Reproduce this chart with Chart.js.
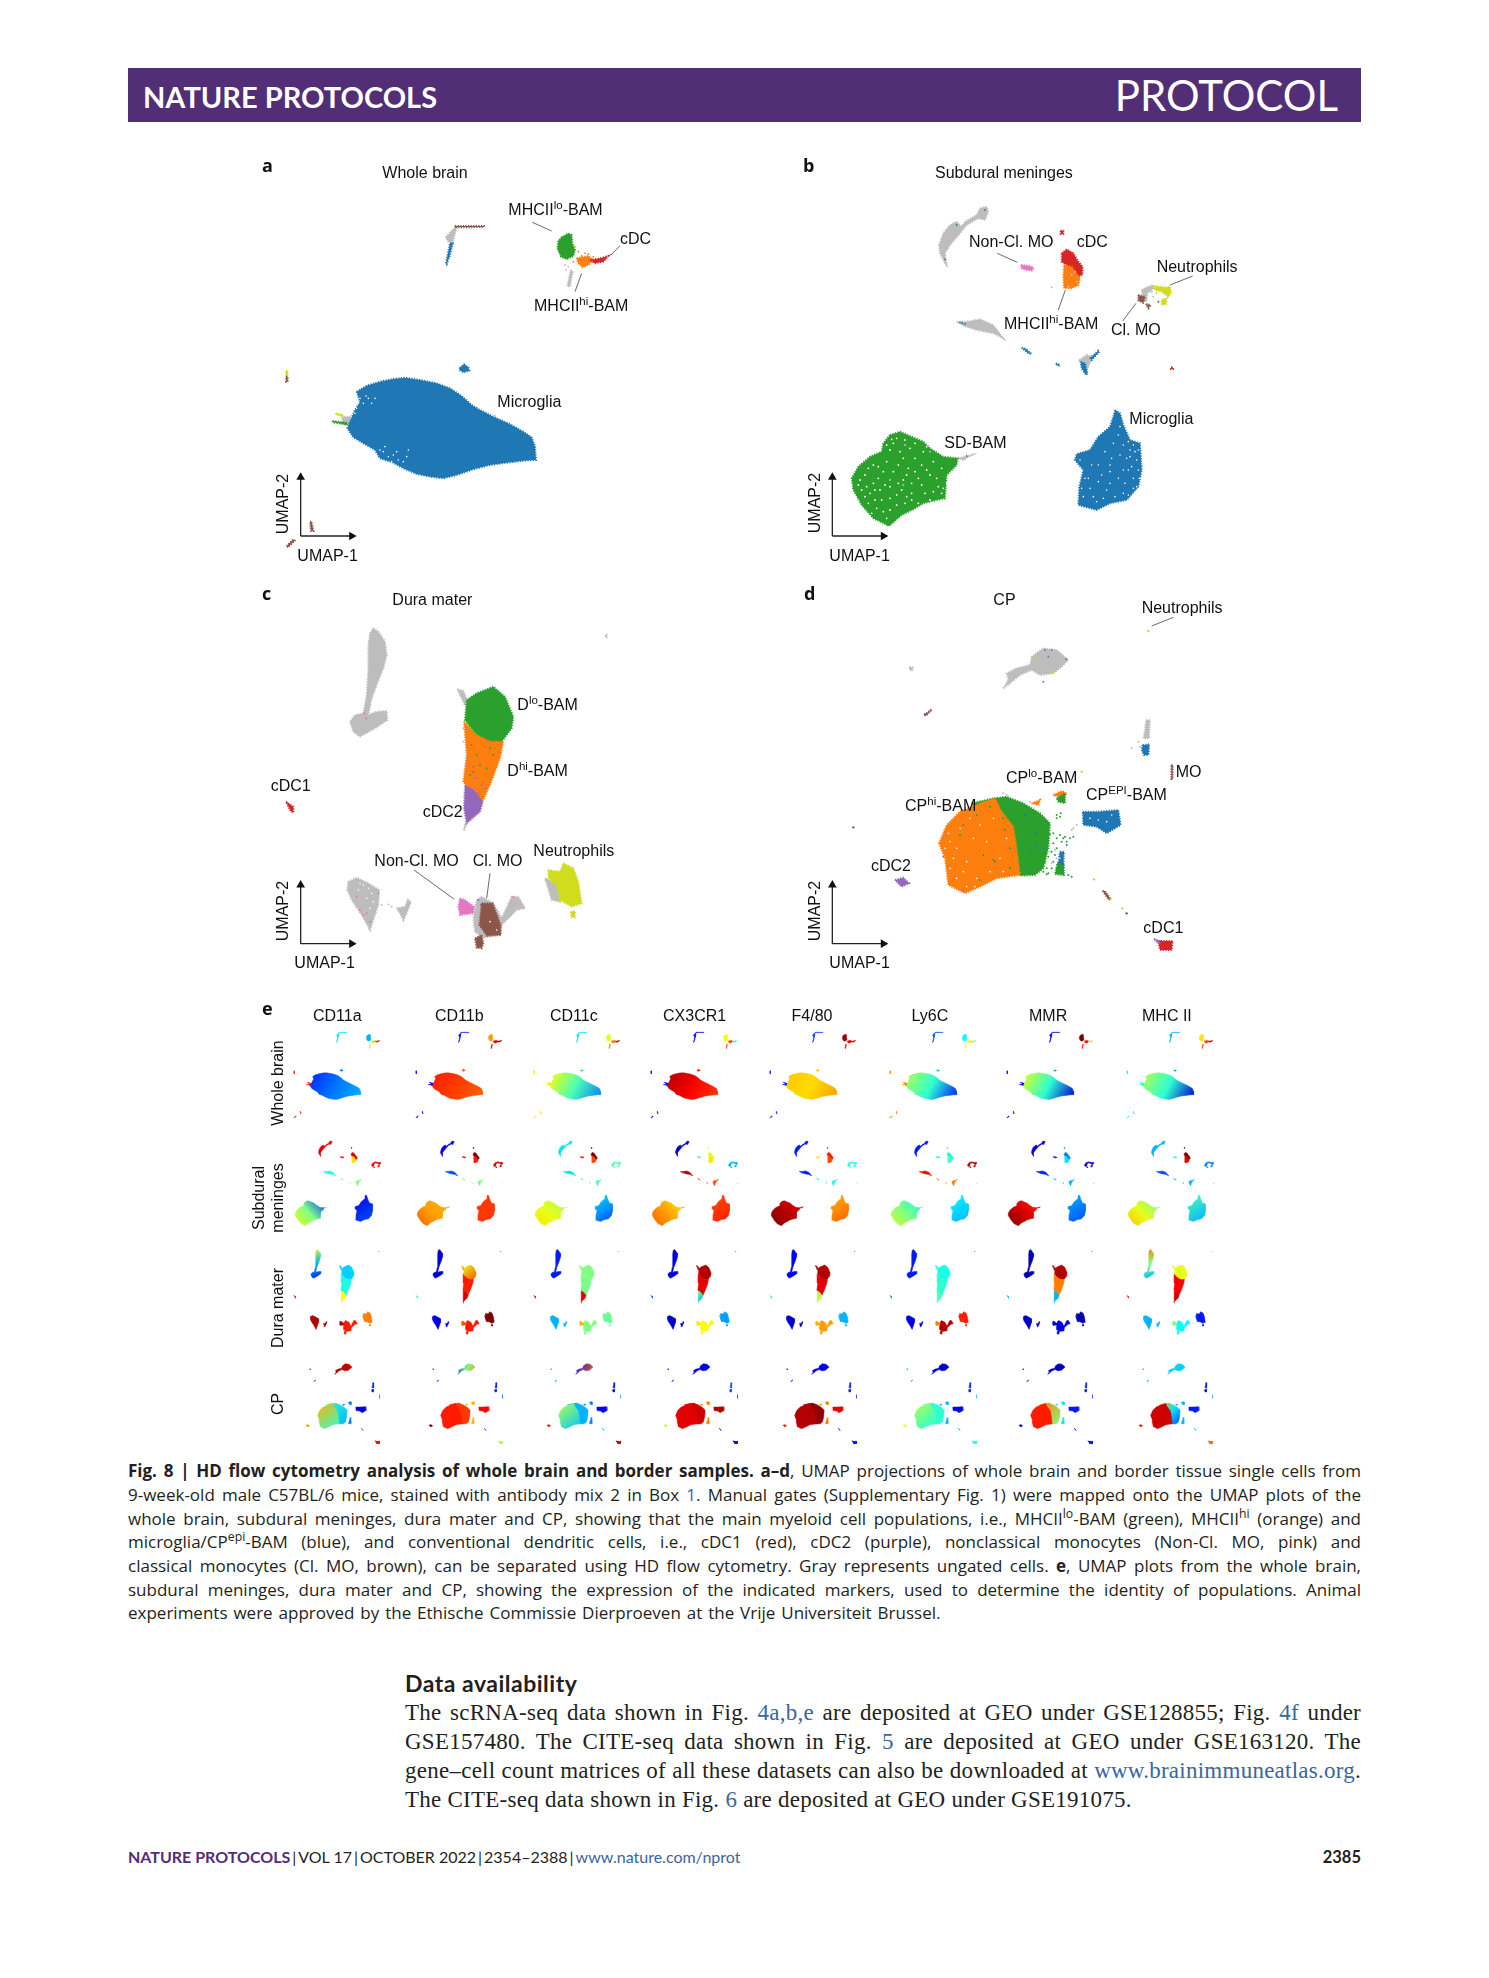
<!DOCTYPE html>
<html>
<head>
<meta charset="utf-8">
<title>Fig. 8 HD flow cytometry</title>
<script src="https://cdn.jsdelivr.net/npm/chart.js@4"></script>
<style>
  html, body { margin: 0; background: #fff; }
  #page { position: relative; width: 1489px; height: 1978px; overflow: hidden; background: #fff; color: #231f20; }
  #page canvas { position: absolute; }
  .band { position: absolute; left: 128px; top: 68px; width: 1233px; height: 54px; background: #512e75; }
  .band1 { position: absolute; left: 143px; top: 81px; font: 700 29px/32px Lato; color: #fff; white-space: nowrap; }
  .band2 { position: absolute; right: 151px; top: 70px; font: 400 42px/50px Lato; color: #fff; white-space: nowrap; }
  .lab { position: absolute; font: 16px/20px "Liberation Sans"; color: #111; white-space: nowrap; transform: translateY(-50%); }
  .lab sup, .cap sup { font-size: 0.72em; line-height: 0; vertical-align: 0.55em; }
  .rot { transform: translate(-50%, -50%) rotate(-90deg); }
  .letter { position: absolute; font: 700 18px/20px "Open Sans"; color: #111; transform: translateY(-50%); }
  .cap { position: absolute; left: 128px; width: 1233px; height: 24px; font: 17px/24px "Open Sans"; color: #231f20; white-space: nowrap; text-align: justify; text-align-last: justify; }
  .cap.last { text-align-last: left; word-spacing: 1.5px; }
  .body { position: absolute; left: 405px; width: 956px; height: 29px; font: 23px/29px "Liberation Serif"; letter-spacing: 0.25px; color: #231f20; white-space: nowrap; text-align: justify; text-align-last: justify; }
  .body.last { text-align-last: left; }
  .pipe { margin: 0 2px; }
  a { color: #3a659f; text-decoration: none; }
</style>
</head>
<body>
<div id="page">
  <div class="band"></div>
  <div class="band1">NATURE PROTOCOLS</div>
  <div class="band2">PROTOCOL</div>

  <div class="cap" style="top:1459px"><b>Fig. 8 | HD flow cytometry analysis of whole brain and border samples. a–d</b>, UMAP projections of whole brain and border tissue single cells from</div>
  <div class="cap" style="top:1483px">9-week-old male C57BL/6 mice, stained with antibody mix 2 in Box <a>1</a>. Manual gates (Supplementary Fig. 1) were mapped onto the UMAP plots of the</div>
  <div class="cap" style="top:1507px">whole brain, subdural meninges, dura mater and CP, showing that the main myeloid cell populations, i.e., MHCII<sup>lo</sup>-BAM (green), MHCII<sup>hi</sup> (orange) and</div>
  <div class="cap" style="top:1530px">microglia/CP<sup>epi</sup>-BAM (blue), and conventional dendritic cells, i.e., cDC1 (red), cDC2 (purple), nonclassical monocytes (Non-Cl. MO, pink) and</div>
  <div class="cap" style="top:1554px">classical monocytes (Cl. MO, brown), can be separated using HD flow cytometry. Gray represents ungated cells. <b>e</b>, UMAP plots from the whole brain,</div>
  <div class="cap" style="top:1578px">subdural meninges, dura mater and CP, showing the expression of the indicated markers, used to determine the identity of populations. Animal</div>
  <div class="cap last" style="top:1601px">experiments were approved by the Ethische Commissie Dierproeven at the Vrije Universiteit Brussel.</div>

  <div style="position:absolute;left:405px;top:1668px;font:700 23px/30px Lato;letter-spacing:0.5px;color:#231f20">Data availability</div>
  <div class="body" style="top:1698px">The scRNA-seq data shown in Fig. <a>4a,b,e</a> are deposited at GEO under GSE128855; Fig. <a>4f</a> under</div>
  <div class="body" style="top:1727px">GSE157480. The CITE-seq data shown in Fig. <a>5</a> are deposited at GEO under GSE163120. The</div>
  <div class="body" style="top:1756px">gene–cell count matrices of all these datasets can also be downloaded at <a>www.brainimmuneatlas.org</a>.</div>
  <div class="body last" style="top:1785px">The CITE-seq data shown in Fig. <a>6</a> are deposited at GEO under GSE191075.</div>

  <div style="position:absolute;left:128px;top:1846px;font:16px/22px Lato;color:#231f20;white-space:nowrap"><b style="color:#512e75">NATURE PROTOCOLS</b><span class="pipe">|</span>VOL 17<span class="pipe">|</span>OCTOBER 2022<span class="pipe">|</span>2354–2388<span class="pipe">|</span><a>www.nature.com/nprot</a></div>
  <div style="position:absolute;right:128px;top:1846px;font:700 16.5px/22px Lato;color:#231f20">2385</div>
</div>

<script>
// populations
const markers = ['CD11a', 'CD11b', 'CD11c', 'CX3CR1', 'F4/80', 'Ly6C', 'MMR', 'MHC II'];
const tissues = ['Whole brain', 'Subdural meninges', 'Dura mater', 'CP'];

// whole brain outlines (UMAP units)
const wbMicroglia = [[290,725],[320,707],[360,695],[400,687],[435,683],[480,690],[530,700],[570,715],[605,738],[635,765],[660,780],[700,800],[750,823],[790,845],[815,862],[825,890],[828,930],[790,932],[740,938],[690,945],[640,958],[590,975],[550,985],[510,980],[470,972],[430,955],[400,938],[360,925],[345,900],[310,880],[280,862],[262,835],[272,810],[285,780],[300,755]];
const wbIsland = [[600,653],[612,643],[625,652],[628,662],[610,667],[598,660]];
const wbStemGray = [[557,262],[585,232],[590,232],[582,262],[578,280],[565,275]];
const wbStemBlue = [[570,280],[578,280],[570,315],[560,343],[558,340]];
const wbStemTop = [[585,228],[672,228],[672,231],[585,232]];
const wbGreen = [[905,262],[925,250],[935,255],[937,280],[945,300],[940,318],[920,328],[903,320],[892,295],[895,272]];
const wbOrange = [[950,325],[985,318],[1000,330],[985,345],[968,352],[955,340]];
const wbRed = [[990,330],[1020,325],[1045,318],[1030,335],[1005,340]];
const wbTail = [[932,360],[938,365],[930,410],[922,408]];
const wbLeftYellow = [[78,662],[83,662],[83,680],[78,680]];
const wbLeftBrown = [[78,680],[83,680],[83,695],[78,695]];
const wbWingGray = [[245,800],[270,800],[275,830],[250,822]];
const wbWingYellow = [[228,790],[250,795],[248,798],[228,794]];
const wbWingGreen = [[218,813],[262,818],[260,824],[218,817]];
const wbLowBrown1 = [[150,1115],[155,1115],[160,1143],[153,1143]];
const wbLowBrown2 = [[80,1188],[100,1168],[104,1172],[84,1192]];
const wholeBrainShapes = [
  ['neut', 5, wbLeftYellow], ['cl', 5, wbLeftBrown], ['ungated', 5, wbWingGray], ['neut', 5, wbWingYellow], ['bamLo', 5, wbWingGreen],
  ['cl', 5, wbLowBrown1], ['cl', 5, wbLowBrown2], ['ungated', 1, wbStemGray], ['microglia', 1, wbStemBlue], ['cl', 1, wbStemTop],
  ['ungated', 3, wbTail], ['microglia', 0, wbIsland], ['microglia', 0, wbMicroglia],
  ['bamLo', 2, wbGreen], ['bamHi', 3, wbOrange], ['cdc1', 4, wbRed]
];
const wbGaps = [[300,745],[310,760],[325,745],[290,775],[295,760],[345,745],[318,738],[335,760],[285,790],[370,905],[385,920],[400,915],[415,930],[440,920],[445,900],[360,900],[395,935],[410,905],[430,935],[375,890]];
const wbOrangeDots = [[945,290],[955,305],[975,310],[940,335],[1000,320],[965,318],[985,312]];
const wbGrayDots = [[925,350],[915,345],[935,370],[918,360],[705,797]];
// one row per marker, one value per group: microglia, stem, MHCIIlo, MHCIIhi, cDC, strays
const wbCD11a = [[.16,.24,.3], .35, .3, .55, .85, .85];
const wbCD11b = [[.85,.78], .15, .72, .9, .98, .12];
const wbCD11c = [[.62,.45,.25], .35, .6, .75, .95, .65];
const wbCX3CR1 = [[.95,.88,.82], .13, .62, .8, .4, .12];
const wbF480 = [[.68,.66,.72], .18, .97, .9, .9, .15];
const wbLy6C = [[.55,.42,.15], .2, .38, .6, .5, .75];
const wbMMR = [[.6,.42,.08], .1, 1, .85, .5, .1];
const wbMHCII = [[.55,.42,.08], .3, .65, .8, .95, .4];

// subdural meninges outlines
const sdRay = [[447,285],[460,250],[480,225],[500,215],[515,230],[525,215],[560,195],[570,175],[590,170],[595,185],[585,210],[565,205],[530,225],[510,250],[480,285],[465,310],[470,345],[465,340],[450,310]];
const sdPink = [[693,345],[715,347],[730,352],[725,362],[700,358],[695,355]];
const sdRedDot = [[812,242],[820,242],[820,252],[812,252]];
const sdRed = [[815,310],[830,298],[850,310],[865,335],[878,350],[877,375],[860,380],[830,345],[815,335]];
const sdOrange = [[822,345],[845,350],[870,385],[865,405],[845,415],[822,415],[820,380]];
const sdYellowA = [[1095,408],[1125,412],[1140,410],[1143,428],[1135,440],[1115,425],[1095,420]];
const sdYellowB = [[1115,450],[1130,445],[1128,462],[1115,465]];
const sdBrownA = [[1045,435],[1065,440],[1060,458],[1045,452]];
const sdBrownB = [[1068,462],[1082,465],[1075,475]];
const sdRing = [[1055,420],[1070,412],[1090,405],[1092,415],[1072,430],[1070,455],[1060,450]];
const sdWing = [[500,515],[530,515],[570,508],[610,525],[640,565],[610,550],[560,540],[520,527]];
const sdDashA = [[695,593],[708,597],[725,612],[715,610]];
const sdDashB = [[797,640],[810,645],[805,648]];
const sdForkGray = [[890,615],[905,620],[900,640],[890,660],[880,640],[865,632]];
const sdForkBlue = [[872,635],[885,640],[893,670],[888,675],[875,655]];
const sdForkArm = [[900,625],[925,602],[928,605],[905,630]];
const sdRedSpot = [[1143,652],[1149,652],[1149,657],[1143,657]];
const sdGreen = [[300,855],[330,845],[365,860],[400,875],[420,895],[460,920],[503,925],[500,945],[470,975],[465,1045],[440,1050],[400,1060],[370,1078],[335,1095],[297,1128],[250,1105],[215,1065],[190,1020],[185,985],[205,950],[240,920],[275,905],[280,880]];
const sdGreenTail = [[505,925],[545,915],[520,930]];
const sdBlue = [[975,780],[990,790],[1000,825],[1020,870],[1050,880],[1055,960],[1045,1010],[1010,1050],[960,1060],[920,1080],[865,1065],[868,1010],[880,960],[855,930],[860,912],[900,900],[925,860],[960,830],[970,800]];
const subduralShapes = [
  ['ungated', 0, sdRay], ['nonCl', 1, sdPink], ['cdc1', 2, sdRedDot], ['cdc1', 2, sdRed], ['bamHi', 3, sdOrange],
  ['ungated', 4, sdRing], ['neut', 4, sdYellowA], ['neut', 4, sdYellowB], ['cl', 4, sdBrownA], ['cl', 4, sdBrownB],
  ['ungated', 5, sdWing], ['microglia', 6, sdDashA], ['microglia', 6, sdDashB], ['ungated', 6, sdForkGray], ['microglia', 6, sdForkBlue], ['microglia', 6, sdForkArm], ['cdc1', 6, sdRedSpot],
  ['ungated', 7, sdGreenTail], ['bamLo', 7, sdGreen, 'anti'], ['microglia', 8, sdBlue]
];
const sdGreenGaps = [[310,880],[345,870],[300,900],[360,895],[400,905],[340,925],[290,935],[250,945],[225,975],[265,985],[310,965],[355,955],[395,945],[430,935],[455,955],[420,975],[445,1010],[455,1030],[385,985],[340,990],[300,1010],[255,1020],[240,1030],[215,1020],[275,1050],[320,1035],[365,1030],[405,1030],[345,1060],[300,1080],[260,1075],[230,1010],[330,905],[375,925],[280,965],[325,1000],[420,1050],[235,1060],[385,1060],[210,990],[320,865],[305,868],[290,885],[375,880],[410,890],[325,945],[265,950],[235,955],[205,1005],[250,1000],[285,1005],[270,1020],[350,975],[375,965],[410,960],[440,985],[395,1005],[365,1000],[335,1020],[300,1045],[255,1050],[280,1085],[320,1065],[365,1050],[430,1025],[245,1090],[290,1105],[225,1040],[350,1040],[470,1000],[460,1015]];
const sdBlueGaps = [[1020,900],[1035,905],[1040,930],[1025,950],[1045,960],[1010,925],[985,855],[990,830],[970,880],[945,905],[925,945],[960,965],[985,985],[1005,1000],[1030,985],[925,995],[950,1020],[900,1015],[885,985],[880,1040],[920,1055],[975,1040],[1000,1030],[1040,1010],[905,945],[965,925],[1015,960],[870,930],[990,915],[940,1045],[1030,885],[1045,900],[1020,920],[1000,885],[1015,875],[1048,985],[1030,1015],[960,1000],[895,985],[910,1040],[960,945],[935,975],[1000,960],[875,1015],[1015,1035]];
const sdGrayDots = [[845,375],[855,365],[860,395],[835,410],[785,412],[1090,440],[1100,430],[1105,455],[1085,425],[730,358],[345,885],[420,905],[300,990],[340,1005],[205,1050]];
const sdBlueDots = [[510,517],[525,522],[517,519],[1105,455],[530,918],[500,225],[465,328],[585,180]];
// groups: ray, pink, cDC, MHCIIhi, neutrophils, wing, small bits, SD-BAM, microglia
const sdCD11a = [.9, .85, .9, .65, .88, .4, .5, [.2,.5,.6], [.1,.2]];
const sdCD11b = [.1, .85, 1, .85, .92, .2, .5, [.7,.72,.78], .82];
const sdCD11c = [.35, .85, 1, .8, .45, .35, .45, [.55,.6,.65], [.35,.2]];
const sdCX3CR1 = [.08, .45, .6, .65, .3, .95, .8, [.65,.72,.78], [.8,.85]];
const sdF480 = [.15, .65, .85, .8, .4, .15, .4, [.9,.95,1], [.7,.78]];
const sdLy6C = [.15, .4, .4, .45, .95, .88, .75, [.4,.5,.58], [.38,.3]];
const sdMMR = [.08, .15, .25, .35, .08, .15, .3, [.85,.92,1], [.3,.2]];
const sdMHCII = [.3, .4, 1, .9, .25, .2, .3, [.5,.6,.68], [.45,.3]];

// dura mater outlines
const dmTop = [[340,130],[355,140],[375,170],[380,210],[370,250],[350,300],[335,340],[325,390],[350,380],[380,378],[382,405],[345,430],[300,455],[280,440],[270,410],[285,390],[310,385],[320,330],[325,250],[325,180],[330,145]];
const dmNeck = [[592,312],[610,318],[622,345],[615,362]];
const dmGreen = [[620,345],[650,325],[700,305],[735,335],[760,395],[755,430],[725,470],[690,470],[650,450],[615,405]];
const dmOrange = [[612,410],[650,450],[690,470],[730,470],[720,520],[690,600],[665,655],[610,590],[620,510]];
const dmPurple = [[615,600],[640,615],[668,650],[660,680],[620,715],[612,670]];
const dmPurpleTail = [[615,715],[620,715],[612,738]];
const dmRed = [[78,650],[100,665],[100,683],[92,678]];
const dmLowLeft = [[265,890],[290,878],[325,895],[358,915],[355,960],[340,1005],[330,1035],[305,990],[275,945],[262,915]];
const dmLowMid = [[410,970],[435,965],[443,945],[453,950],[440,985],[430,1005],[420,985]];
const dmPink = [[600,940],[615,945],[642,965],[640,985],[600,990],[595,965]];
const dmGrayBack = [[650,945],[665,935],[700,955],[725,1000],[755,935],[775,935],[795,970],[770,975],[725,1020],[720,1050],[670,1058],[645,1040],[640,1000]];
const dmBrown = [[665,955],[698,955],[722,1020],[722,1050],[680,1052],[658,1020]];
const dmBrownLow = [[645,1060],[665,1050],[670,1075],[665,1090],[650,1088]];
const dmYellow = [[865,855],[900,860],[910,835],[940,850],[955,890],[965,955],[935,965],[900,945],[890,900],[865,880]];
const dmYellowGray = [[855,880],[890,895],[900,950],[875,945]];
const dmYellowFoot = [[932,980],[945,978],[945,997],[935,997]];
const dmSpot = [[1037,150],[1040,150],[1040,157],[1037,157]];
const duraShapes = [
  ['ungated', 0, dmTop], ['ungated', 1, dmNeck], ['ungated', 7, dmGrayBack], ['bamLo', 1, dmGreen], ['bamHi', 2, dmOrange], ['cdc2', 3, dmPurple], ['ungated', 3, dmPurpleTail],
  ['cdc1', 4, dmRed], ['ungated', 5, dmLowLeft], ['ungated', 5, dmLowMid], ['nonCl', 6, dmPink], ['cl', 7, dmBrown], ['cl', 7, dmBrownLow],
  ['ungated', 8, dmYellowGray], ['neut', 8, dmYellow], ['neut', 8, dmYellowFoot], ['ungated', 5, dmSpot]
];
const dmGreenDots = [[635,480],[650,510],[690,490],[700,510],[640,560],[660,540],[630,570],[680,550]];
const dmPurpleDots = [[650,580],[665,600],[640,545],[675,610],[655,625],[655,945],[662,960]];
const dmPinkDots = [[312,385],[318,400],[300,975],[320,985],[310,990],[330,1010],[290,935],[760,935],[355,925]];
const dmGaps = [[310,900],[335,925],[320,940],[340,950],[295,915],[690,1010],[710,1035],[300,895],[325,910],[330,970]];
const dmGrayDots = [[365,960],[385,958],[395,965],[610,430],[610,470],[660,1090]];
// groups: top cloud, MHCIIlo, MHCIIhi, cDC2, cDC1, low left, pink, brown, neutrophils
const dmCD11a = [[.6,.3,.15], .33, .4, .62, .9, .95, .95, .85, .75];
const dmCD11b = [.08, [.6,.8], .85, .92, .4, .1, .8, .85, 1];
const dmCD11c = [.15, .5, [.5,.48], .9, .92, .3, .7, .5, .48];
const dmCX3CR1 = [.1, .95, .9, [.5,.3], .2, .08, .65, .62, .28];
const dmF480 = [.12, .95, .9, .55, .38, .08, .7, .72, .3];
const dmLy6C = [.15, .4, .42, .45, .25, .1, .75, .95, .85];
const dmMMR = [.05, .95, .75, .3, .3, .07, .08, .1, .05];
const dmMHCII = [[.75,.5,.3], .6, .88, .92, .85, .3, .5, .38, .15];

// CP outlines
const cpTop = [[640,310],[655,285],[650,265],[680,250],[720,240],[725,215],[760,190],[800,195],[835,225],[815,245],[790,265],[750,270],[725,255],[690,270],[660,295]];
const cpSmallGray = [[358,245],[368,248],[368,257],[360,255]];
const cpStick = [[403,390],[425,373],[420,380],[408,392]];
const cpSideGray = [[1068,405],[1080,405],[1078,430],[1078,460],[1060,460],[1065,435]];
const cpSideBlue = [[1058,480],[1078,478],[1075,510],[1062,510],[1055,495]];
const cpMoLine = [[1144,540],[1148,540],[1148,582],[1144,582]];
const cpBudOrange = [[790,630],[815,618],[830,625],[820,640]];
const cpBudGreen = [[800,640],[825,625],[825,655],[805,650]];
const cpBudSmall = [[725,655],[750,645],[745,660]];
const cpGreen = [[545,655],[610,640],[650,635],[700,655],[750,685],[780,715],[775,790],[760,850],[735,870],[690,872],[640,760]];
const cpOrange = [[447,775],[470,720],[510,680],[570,655],[615,640],[635,680],[670,725],[680,790],[690,870],[620,880],[570,905],[525,925],[475,900],[470,860],[465,820]];
const cpStrayGreen = [[802,835],[822,835],[822,870],[795,868]];
const cpStrayBlue = [[810,800],[822,800],[820,840],[805,835]];
const cpEpi = [[878,680],[925,680],[985,675],[992,720],[950,745],[920,725],[880,720]];
const cpPurple = [[315,885],[340,878],[357,895],[335,905]];
const cpRed = [[1105,1068],[1148,1068],[1145,1095],[1110,1095]];
const cpRedPurple = [[1092,1062],[1110,1068],[1108,1078]];
const cpLowStick = [[938,918],[945,918],[962,942],[956,944]];
const choroidShapes = [
  ['ungated', 0, cpTop], ['ungated', 8, cpSmallGray], ['cl', 8, cpStick], ['ungated', 7, cpSideGray], ['microglia', 7, cpSideBlue], ['cl', 8, cpMoLine],
  ['bamLo', 3, cpStrayGreen], ['microglia', 3, cpStrayBlue], ['bamHi', 3, cpBudOrange], ['bamLo', 3, cpBudGreen], ['bamHi', 3, cpBudSmall],
  ['bamLo', 2, cpGreen], ['bamHi', 1, cpOrange], ['microglia', 4, cpEpi], ['cdc2', 5, cpPurple], ['cdc1', 6, cpRed], ['cdc2', 6, cpRedPurple], ['cl', 8, cpLowStick]
];
const cpGaps = [[480,770],[510,730],[540,700],[465,790],[490,820],[520,860],[560,880],[600,860],[630,820],[590,770],[650,760],[550,760],[500,880],[530,905],[900,700],[950,710],[965,690],[475,745],[500,790],[530,830],[570,720],[610,700],[480,850],[555,905],[640,860],[925,705]];
const cpGreenDots = [[520,720],[560,690],[600,665],[510,750],[615,830],[570,885],[660,850],[690,840],[640,700],[580,810],[645,735],[660,790],[800,690],[812,685],[850,755],[610,825],[790,745],[780,748],[800,760],[810,750],[825,755],[840,760],[790,775],[800,790],[785,800],[775,815],[790,830],[770,850],[785,850],[760,860],[765,830],[815,770],[830,770],[795,810],[800,850],[775,865],[815,865],[845,875],[835,870],[770,868],[800,700],[810,695]];
const cpBlueDots = [[820,760],[830,780],[740,745],[705,690],[735,780],[725,800],[760,790]];
const cpBrownDots = [[190,727],[1010,985],[405,388]];
const cpYellowDots = [[1075,138],[912,883],[962,942],[997,970],[875,560],[790,262],[735,218]];
const cpPurpleDots = [[760,290],[765,195],[785,195],[775,215],[828,223],[520,915],[460,815]];
const cpGrayDots = [[1045,470],[1025,490],[1050,485],[860,720],[845,735],[800,820],[640,625],[720,650],[650,630],[780,800],[810,820],[785,835],[795,795],[850,730]];
// groups: top cloud, MHCIIhi, MHCIIlo, strays, CP-epi, cDC2, cDC1, side cloud, bits
const cpCD11a = [[.98,.9], [.7,.42], [.42,.3], .25, .1, .72, .9, .15, .85];
const cpCD11b = [[.1,.5,.75], .85, .82, .7, .88, 1, .55, .15, .2];
const cpCD11c = [[.15,.78], [.55,.32], .3, .25, .12, .85, .95, .12, .3];
const cpCX3CR1 = [.1, .9, .92, .75, .95, .55, .08, .2, .15];
const cpF480 = [.1, .95, .98, .75, .9, .85, .12, .15, .15];
const cpLy6C = [.08, [.55,.4], .42, .3, .1, .6, .4, .15, .3];
const cpMMR = [.06, .85, [.75,.5], .35, .15, .12, .1, .15, .15];
const cpMHCII = [.33, .92, [.7,.35,.2], .3, .15, .85, .78, .12, .3];

const popColors = {
  microglia: '#1f77b4', bamLo: '#2ca02c', bamHi: '#ff7f0e', cdc1: '#d62728', cdc2: '#9467bd',
  nonCl: '#e377c2', cl: '#8c564b', neut: '#d0dc1e', ungated: '#bdbdbd'
};

const page = document.getElementById('page');

function xy(p) {
  return { x: p[0], y: p[1] };
}

function closed(pts) {
  return pts.concat([pts[0]]).map(xy);
}

function makeCanvas(left, top, w, h) {
  const c = document.createElement('canvas');
  c.width = Math.round(w);
  c.height = Math.round(h);
  c.style.left = left + 'px';
  c.style.top = top + 'px';
  c.style.width = Math.round(w) + 'px';
  c.style.height = Math.round(h) + 'px';
  page.appendChild(c);
  return c;
}

function baseOptions(xMax, yMax) {
  return {
    responsive: false,
    animation: false,
    events: [],
    layout: { padding: 0, autoPadding: false },
    plugins: { legend: { display: false }, tooltip: { enabled: false } },
    scales: {
      x: { type: 'linear', display: false, min: 0, max: xMax },
      y: { type: 'linear', display: false, min: 0, max: yMax, reverse: true },
    },
  };
}

// later datasets go on top, chart.js draws low order last
function stack(sets) {
  sets.forEach(function (d, i) { d.order = sets.length - i; });
  return sets;
}

// dashed border of the same colour gives the grainy edge of the cell clouds
function shapeDataset(pts, color, width, dash) {
  return {
    data: closed(pts),
    showLine: true,
    fill: 'shape',
    backgroundColor: color,
    borderColor: color,
    borderWidth: width,
    borderDash: dash || [],
    pointRadius: 0,
    tension: 0,
  };
}

function dotDataset(pts, color, r) {
  return { data: pts.map(xy), showLine: false, pointRadius: r, pointBorderWidth: 0, pointBackgroundColor: color };
}

function lineDataset(pts, color, width) {
  return { data: pts.map(xy), showLine: true, fill: false, borderColor: color, borderWidth: width, pointRadius: 0 };
}

function arrowDataset(from, to, rot) {
  return {
    data: [from, to].map(xy),
    showLine: true,
    fill: false,
    borderColor: '#222',
    borderWidth: 1.3,
    pointRadius: [0, 5],
    pointStyle: 'triangle',
    rotation: rot,
    pointBorderWidth: 0,
    pointBackgroundColor: '#111',
  };
}

function addLabels(chart, left, top, labels) {
  labels.forEach(function (l) {
    const d = document.createElement('div');
    d.className = 'lab' + (l[3] ? ' rot' : '');
    d.innerHTML = l[0];
    d.style.left = left + chart.scales.x.getPixelForValue(l[1]) + 'px';
    d.style.top = top + chart.scales.y.getPixelForValue(l[2]) + 'px';
    page.appendChild(d);
  });
}

function addLetter(text, left, top) {
  const d = document.createElement('div');
  d.className = 'letter';
  d.textContent = text;
  d.style.left = left + 'px';
  d.style.top = top + 'px';
  page.appendChild(d);
}

function panel(cfg) {
  const c = makeCanvas(cfg.left, cfg.top, cfg.xMax / 3, cfg.yMax / 3);
  const sets = cfg.shapes.map(function (s) { return shapeDataset(s[2], popColors[s[0]], 2, [1.2, 1.4]); });
  cfg.dots.forEach(function (d) { sets.push(dotDataset(d[0], d[1], d[2])); });
  cfg.leaders.forEach(function (l) { sets.push(lineDataset(l, '#444', 0.8)); });
  sets.push(arrowDataset(cfg.origin, [cfg.origin[0], cfg.origin[1] - 176], 0));
  sets.push(arrowDataset(cfg.origin, [cfg.origin[0] + 153, cfg.origin[1]], 90));
  const chart = new Chart(c.getContext('2d'), { type: 'scatter', data: { datasets: stack(sets) }, options: baseOptions(cfg.xMax, cfg.yMax) });
  addLabels(chart, cfg.left, cfg.top, cfg.labels);
  return chart;
}

panel({
  left: 260, top: 150, xMax: 1260, yMax: 1260,
  shapes: wholeBrainShapes,
  dots: [[wbGaps, '#fff', 0.8], [wbOrangeDots, popColors.bamHi, 0.9], [wbGrayDots, popColors.ungated, 0.9]],
  leaders: [[[817,217],[875,243]], [[1080,287],[1053,315]], [[965,370],[945,425]]],
  origin: [122, 1158],
  labels: [['Whole brain', 367, 68], ['MHCII<sup>lo</sup>-BAM', 745, 180], ['cDC', 1080, 268], ['MHCII<sup>hi</sup>-BAM', 822, 468], ['Microglia', 712, 755], ['UMAP-1', 112, 1217], ['UMAP-2', 70, 1062, true]],
});
panel({
  left: 790, top: 150, xMax: 1410, yMax: 1290,
  shapes: subduralShapes,
  dots: [[sdGreenGaps, '#fff', 0.9], [sdBlueGaps, '#fff', 0.8], [sdGrayDots, popColors.ungated, 1], [sdBlueDots, popColors.microglia, 0.9]],
  leaders: [[[622,310],[682,337]], [[826,420],[805,480]], [[1140,405],[1208,378]], [[1038,460],[998,513]]],
  origin: [127, 1158],
  labels: [['Subdural meninges', 435, 68], ['Non-Cl. MO', 537, 277], ['cDC', 860, 277], ['Neutrophils', 1100, 352], ['MHCII<sup>hi</sup>-BAM', 642, 523], ['Cl. MO', 963, 541], ['Microglia', 1018, 808], ['SD-BAM', 463, 880], ['UMAP-1', 118, 1217], ['UMAP-2', 74, 1060, true]],
});
panel({
  left: 260, top: 585, xMax: 1200, yMax: 1200,
  shapes: duraShapes,
  dots: [[dmGaps, '#fff', 0.8], [dmGreenDots, popColors.bamLo, 0.9], [dmPurpleDots, popColors.cdc2, 0.9], [dmPinkDots, popColors.nonCl, 1], [dmGrayDots, popColors.ungated, 0.9]],
  leaders: [[[462,855],[582,942]], [[690,865],[680,940]]],
  origin: [122, 1076],
  labels: [['Dura mater', 397, 44], ['D<sup>lo</sup>-BAM', 772, 360], ['D<sup>hi</sup>-BAM', 742, 558], ['cDC1', 32, 603], ['cDC2', 488, 680], ['Non-Cl. MO', 343, 828], ['Cl. MO', 638, 828], ['Neutrophils', 820, 797], ['UMAP-1', 103, 1133], ['UMAP-2', 70, 978, true]],
});
panel({
  left: 790, top: 585, xMax: 1410, yMax: 1200,
  shapes: choroidShapes,
  dots: [[cpGaps, '#fff', 0.8], [cpGreenDots, popColors.bamLo, 1], [cpBlueDots, popColors.microglia, 1], [cpBrownDots, popColors.cl, 1.2], [cpYellowDots, popColors.neut, 1.2], [cpPurpleDots, popColors.cdc2, 1], [cpGrayDots, popColors.ungated, 1]],
  leaders: [[[1085,123],[1150,97]]],
  origin: [127, 1076],
  labels: [['CP', 610, 44], ['Neutrophils', 1055, 68], ['CP<sup>lo</sup>-BAM', 648, 580], ['MO', 1157, 560], ['CP<sup>EPI</sup>-BAM', 888, 630], ['CP<sup>hi</sup>-BAM', 345, 663], ['cDC2', 243, 842], ['cDC1', 1060, 1028], ['UMAP-1', 118, 1135], ['UMAP-2', 74, 978, true]],
});

addLetter('a', 262, 165);
addLetter('b', 803, 165);
addLetter('c', 262, 593);
addLetter('d', 804, 593);
addLetter('e', 262, 1008);

// panel e, jet colour map over 0..1
function jet(v) {
  const ch = function (c) { return Math.round(255 * Math.max(0, Math.min(1, 1.5 - Math.abs(4 * v - c)))); };
  return 'rgb(' + ch(3) + ',' + ch(2) + ',' + ch(1) + ')';
}

function exprFill(value, pts, anti) {
  if (!Array.isArray(value)) return jet(value);
  return function (c) {
    const { x, y } = c.chart.scales;
    if (!c.chart.chartArea || !x || !y) return jet(value[0]);
    const xs = pts.map(function (p) { return p[0]; });
    const ys = pts.map(function (p) { return p[1]; });
    const x0 = x.getPixelForValue(Math.min.apply(null, xs));
    const x1 = x.getPixelForValue(Math.max.apply(null, xs));
    const y0 = y.getPixelForValue(Math.min.apply(null, ys));
    const y1 = y.getPixelForValue(Math.max.apply(null, ys));
    if (![x0, x1, y0, y1].every(isFinite)) return jet(value[0]);
    const g = anti ? c.chart.ctx.createLinearGradient(x1, y0, x0, y1) : c.chart.ctx.createLinearGradient(x0, y0, x1, y1);
    value.forEach(function (v, i) { g.addColorStop(i / (value.length - 1), jet(v)); });
    return g;
  };
}

const tileScale = 0.0885;
const colOffsets = [0, 122.5, 240.6, 357.4, 476.7, 596.7, 712.8, 832.8];
const rows = [
  { shapes: wholeBrainShapes, left: 286.7, top: 1012, xMax: 1260, yMax: 1260, expr: [wbCD11a, wbCD11b, wbCD11c, wbCX3CR1, wbF480, wbLy6C, wbMMR, wbMHCII] },
  { shapes: subduralShapes, left: 278.7, top: 1126.3, xMax: 1410, yMax: 1290, expr: [sdCD11a, sdCD11b, sdCD11c, sdCX3CR1, sdF480, sdLy6C, sdMMR, sdMHCII] },
  { shapes: duraShapes, left: 286.7, top: 1238, xMax: 1200, yMax: 1200, expr: [dmCD11a, dmCD11b, dmCD11c, dmCX3CR1, dmF480, dmLy6C, dmMMR, dmMHCII] },
  { shapes: choroidShapes, left: 278.3, top: 1346.7, xMax: 1410, yMax: 1200, expr: [cpCD11a, cpCD11b, cpCD11c, cpCX3CR1, cpF480, cpLy6C, cpMMR, cpMHCII] },
];

rows.forEach(function (row) {
  row.expr.forEach(function (values, col) {
    const c = makeCanvas(row.left + colOffsets[col], row.top, row.xMax * tileScale, row.yMax * tileScale);
    const sets = row.shapes.map(function (s) {
      const fill = exprFill(values[s[1]], s[2], s[3]);
      return shapeDataset(s[2], fill, 0.5);
    });
    new Chart(c.getContext('2d'), { type: 'scatter', data: { datasets: stack(sets) }, options: baseOptions(row.xMax, row.yMax) });
  });
});

// marker and tissue headings of panel e
const colHeadLeft = [313, 435, 550, 663, 791.6, 911.5, 1029, 1142];
markers.forEach(function (m, i) {
  const d = document.createElement('div');
  d.className = 'lab';
  d.textContent = m;
  d.style.left = colHeadLeft[i] + 'px';
  d.style.top = '1016px';
  page.appendChild(d);
});
const rowHeads = [[tissues[0], 278, 1083], ['Subdural', 259, 1198], ['meninges', 278, 1198], [tissues[2], 278, 1308], [tissues[3], 278, 1404]];
rowHeads.forEach(function (r) {
  const d = document.createElement('div');
  d.className = 'lab rot';
  d.textContent = r[0];
  d.style.left = r[1] + 'px';
  d.style.top = r[2] + 'px';
  page.appendChild(d);
});
</script>
</body>
</html>
